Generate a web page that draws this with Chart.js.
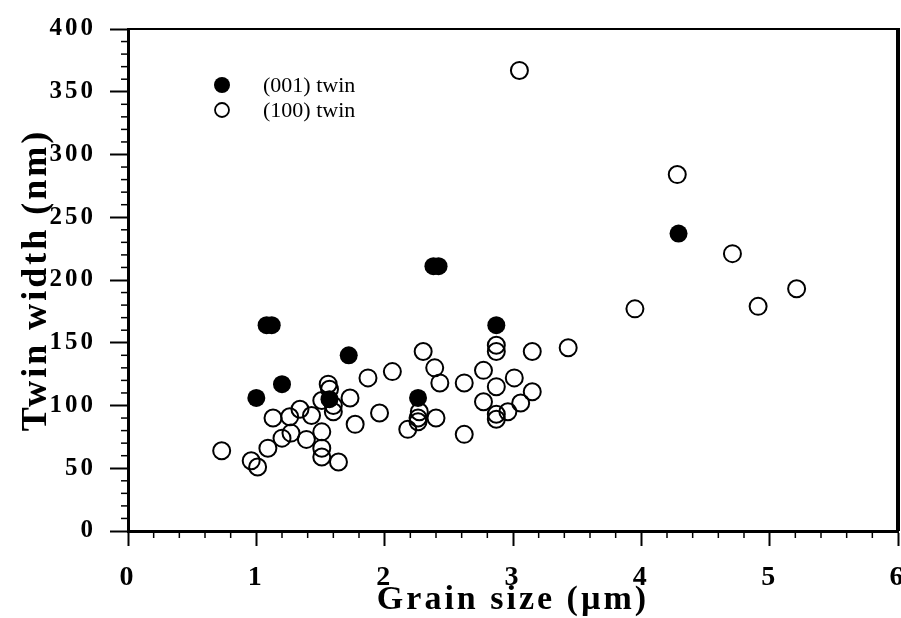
<!DOCTYPE html>
<html>
<head>
<meta charset="utf-8">
<title>Twin width vs grain size</title>
<script src="https://cdn.jsdelivr.net/npm/chart.js@4.4.1/dist/chart.umd.min.js"></script>
<style>
  html, body { margin: 0; padding: 0; background: #fff; overflow: hidden; }
  canvas { display: block; }
</style>
</head>
<body>
<canvas id="twinChart" width="901" height="618"></canvas>
<script>
// (001) twin - filled circles
const grain001 = [1.00, 1.08, 1.12, 1.20, 1.57, 1.72, 2.26, 2.38, 2.42, 2.87, 4.29];
const width001 = [106, 164, 164, 117, 105, 140, 106, 211, 211, 164, 237];

// (100) twin - open circles
const grain100 = [0.73, 0.96, 1.01, 1.09, 1.13, 1.20, 1.26, 1.34, 1.27, 1.39,
                  1.43, 1.51, 1.51, 1.51, 1.56, 1.57, 1.51, 1.60, 1.60, 1.64,
                  1.73, 1.77, 1.87, 1.96, 2.06, 2.18, 2.26, 2.27, 2.26, 2.30,
                  2.39, 2.43, 2.40, 2.62, 2.62, 2.77, 2.77, 2.87, 2.87, 2.87,
                  2.87, 2.87, 2.96, 3.01, 3.06, 3.15, 3.15, 3.43, 3.05, 3.95,
                  4.28, 4.71, 4.91, 5.21];
const width100 = [64, 56, 51, 66, 90, 74, 91, 97, 78, 73,
                  92, 79, 66, 59, 117, 113, 104, 95, 100, 55,
                  106, 85, 122, 94, 127, 81, 90, 95, 87, 143,
                  130, 118, 90, 118, 77, 128, 103, 148, 143, 115,
                  93, 89, 95, 122, 102, 143, 111, 146, 367, 177,
                  284, 221, 179, 193];

const seriesLabels = ['(001) twin', '(100) twin'];
const xTicks = [0, 1, 2, 3, 4, 5, 6];
const yTicks = [0, 50, 100, 150, 200, 250, 300, 350, 400];

const toPoints = (xs, ys) => xs.map((v, i) => ({ x: v, y: ys[i] }));

// frame, minor ticks and the little legend inside the plot
const framePlugin = {
    id: 'frame',
    beforeDraw(chart) {
        chart.ctx.letterSpacing = '3px';
    },
    afterDraw(chart) {
        const { ctx, chartArea: a, scales } = chart;
        const x = scales.x, y = scales.y;
        ctx.save();
        ctx.strokeStyle = '#000';
        ctx.lineWidth = 2;
        ctx.beginPath();
        ctx.moveTo(a.left, a.top);
        ctx.lineTo(a.right, a.top);
        ctx.stroke();
        ctx.lineWidth = 4;
        ctx.beginPath();
        ctx.moveTo(a.right, a.top - 1);
        ctx.lineTo(a.right, a.bottom);
        ctx.stroke();

        // minor ticks
        ctx.lineWidth = 1.5;
        for (let i = 1; i < 30; i++) {
            if (i % 5 === 0) continue;
            const px = x.getPixelForValue(i / 5);
            ctx.beginPath();
            ctx.moveTo(px, a.bottom);
            ctx.lineTo(px, a.bottom + 7);
            ctx.stroke();
        }
        for (let i = 1; i < 40; i++) {
            if (i % 5 === 0) continue;
            const py = y.getPixelForValue(i * 10);
            ctx.beginPath();
            ctx.moveTo(a.left - 7, py);
            ctx.lineTo(a.left, py);
            ctx.stroke();
        }

        // legend
        ctx.letterSpacing = '0px';
        ctx.font = '22px "Liberation Serif"';
        ctx.textBaseline = 'middle';
        ctx.textAlign = 'left';
        ctx.fillStyle = '#000';
        chart.data.datasets.forEach((ds, i) => {
            const cy = a.top + 56 + i * 25;
            const cx = a.left + 94;
            ctx.beginPath();
            if (i === 0) {
                ctx.arc(cx, cy, 8, 0, Math.PI * 2);
                ctx.fill();
            } else {
                ctx.lineWidth = 1.8;
                ctx.arc(cx, cy, 7, 0, Math.PI * 2);
                ctx.stroke();
            }
            ctx.fillText(ds.label, a.left + 135, cy + 1);
        });
        ctx.restore();
    }
};

const serif = '"Liberation Serif", "Times New Roman", serif';

new Chart(document.getElementById('twinChart'), {
    type: 'scatter',
    data: {
        datasets: [{
            label: seriesLabels[0],
            data: toPoints(grain001, width001),
            pointRadius: 9,
            pointHoverRadius: 9,
            backgroundColor: '#000',
            borderColor: '#000',
            borderWidth: 0
        }, {
            label: seriesLabels[1],
            data: toPoints(grain100, width100),
            pointRadius: 8.5,
            pointHoverRadius: 8.5,
            backgroundColor: 'rgba(0,0,0,0)',
            borderColor: '#000',
            borderWidth: 2
        }]
    },
    options: {
        responsive: false,
        animation: false,
        events: [],
        layout: {
            autoPadding: false, // otherwise the point radius pushes the right edge in
            padding: { top: 23, right: 3, left: 0, bottom: 0 }
        },
        plugins: {
            legend: { display: false },
            tooltip: { enabled: false }
        },
        scales: {
            x: {
                type: 'linear',
                min: 0,
                max: 6,
                afterBuildTicks: s => { s.ticks = xTicks.map(v => ({ value: v })); },
                // the "6" runs off the edge in the original
                afterFit: s => { s.height = 87; s.paddingRight = 0; },
                border: { color: '#000', width: 3 },
                grid: { drawOnChartArea: false, tickLength: 15, tickWidth: 2, tickColor: '#000' },
                ticks: {
                    color: '#000',
                    padding: 15,
                    maxRotation: 0,
                    font: { family: serif, size: 28, weight: 'bold' }
                },
                title: {
                    display: true,
                    text: 'Grain size (µm)',
                    color: '#000',
                    padding: { top: 0, bottom: 0 },
                    font: { family: serif, size: 34, weight: 'bold', lineHeight: 1.05 }
                }
            },
            y: {
                type: 'linear',
                min: 0,
                max: 400,
                afterBuildTicks: s => { s.ticks = yTicks.map(v => ({ value: v })); },
                afterFit: s => { s.width = 128; },
                border: { color: '#000', width: 3 },
                grid: { drawOnChartArea: false, tickLength: 18, tickWidth: 2, tickColor: '#000' },
                ticks: {
                    color: '#000',
                    padding: 14,
                    font: { family: serif, size: 25, weight: 'bold' }
                },
                title: {
                    display: true,
                    text: 'Twin width (nm)',
                    color: '#000',
                    padding: { top: 15, bottom: 0 },
                    font: { family: serif, size: 36, weight: 'bold', lineHeight: 1.2 }
                }
            }
        }
    },
    plugins: [framePlugin]
});
</script>
</body>
</html>
